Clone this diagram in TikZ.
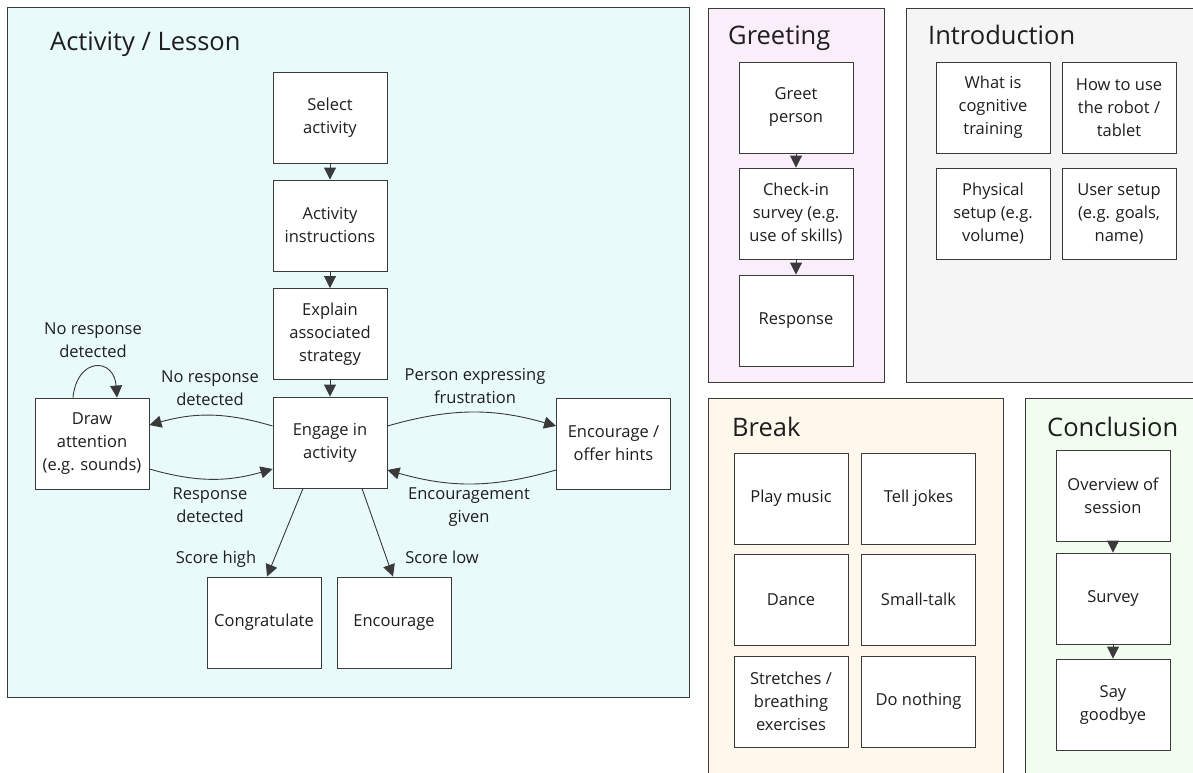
\documentclass[tikz,border=0pt]{standalone}
\usepackage{fontspec}
\setmainfont{Open Sans}
\usetikzlibrary{arrows.meta}
\definecolor{cyanbg}{HTML}{E9FAFB}
\definecolor{pinkbg}{HTML}{FBEEFB}
\definecolor{graybg}{HTML}{F5F5F5}
\definecolor{orangebg}{HTML}{FEF7EC}
\definecolor{greenbg}{HTML}{F1FDEF}
\definecolor{linegray}{HTML}{3A3A3A}
\definecolor{txt}{HTML}{1E1E1E}
\begin{document}
\begin{tikzpicture}[x=1pt,y=-1pt,
  panel/.style={draw=linegray, line width=0.9pt},
  box/.style={draw=linegray, fill=white, line width=0.9pt, minimum width=114pt, minimum height=91pt, inner sep=1pt, align=center, text=txt, font=\fontsize{16.5}{23}\selectfont},
  lbl/.style={align=center, anchor=base, text=txt, inner sep=0pt, font=\fontsize{16.5}{22.5}\selectfont},
  ttl/.style={anchor=base west, text=txt, inner sep=0pt, font=\fontsize{25.5}{30}\selectfont},
  arr/.style={-{Triangle[length=12pt,width=12pt]}, line width=0.9pt, draw=linegray}]
\clip (0,0) rectangle (1193,773);
\fill[white] (0,0) rectangle (1193,773);
% panels
\draw[panel, fill=cyanbg] (7,7) rectangle (689,697);
\draw[panel, fill=pinkbg] (708,8) rectangle (884,382);
\draw[panel, fill=graybg] (906,8) rectangle (1210,382);
\draw[panel, fill=orangebg] (708,398) rectangle (1003,790);
\draw[panel, fill=greenbg] (1025,398) rectangle (1210,790);
% titles
\node[ttl] (tAct) at (50,51) {Activity / Lesson};
\node[ttl] (tGre) at (728,45) {Greeting};
\node[ttl] (tInt) at (928,45) {Introduction};
\node[ttl] (tBrk) at (732,436) {Break};
\node[ttl] (tCon) at (1047,436) {Conclusion};
% activity nodes
\node[box] (sel) at (330,117.5) {Select\\activity};
\node[box] (ins) at (330,225.5) {Activity\\instructions};
\node[box] (exp) at (330,334) {Explain\\associated\\strategy};
\node[box] (eng) at (330,442.5) {Engage in\\activity};
\node[box] (drw) at (92,443.5) {Draw\\attention\\(e.g. sounds)};
\node[box] (enc) at (613.5,443.5) {Encourage /\\offer hints};
\node[box] (cong) at (264,622.5) {Congratulate};
\node[box] (encg) at (394,622.5) {Encourage};
% activity arrows
\draw[arr] (sel) -- (ins);
\draw[arr] (ins) -- (exp);
\draw[arr] (exp) -- (eng);
\draw[arr] ([yshift=16.5pt]eng.west) to[bend right=16] ([yshift=18.5pt]drw.east);
\draw[arr] ([yshift=-25.5pt]drw.east) to[bend right=16] ([yshift=-26.5pt]eng.west);
\draw[arr] ([yshift=16.5pt]eng.east) to[bend left=16] ([yshift=17.5pt]enc.west);
\draw[arr] ([yshift=-26.5pt]enc.west) to[bend left=16] ([yshift=-27.5pt]eng.east);
\draw[arr] ([xshift=-19pt]drw.north) .. controls (77,357) and (114,357) .. ([xshift=25pt]drw.north);
\draw[arr] ([xshift=-27pt]eng.south) -- ([xshift=3pt]cong.north);
\draw[arr] ([xshift=32pt]eng.south) -- ([xshift=-1pt]encg.north);
% labels (base = last line)
\node[lbl] (l1) at (210,405) {No response\\detected};
\node[lbl] (l2) at (210,522) {Response\\detected};
\node[lbl] (l3) at (475,403) {Person expressing\\frustration};
\node[lbl] (l4) at (469,522) {Encouragement\\given};
\node[lbl] (l5) at (93,357) {No response\\detected};
\node[lbl] (l6) at (216,563) {Score high};
\node[lbl] (l7) at (442,563) {Score low};
% greeting
\node[box] (g1) at (796,107.5) {Greet\\person};
\node[box] (g2) at (796,213.5) {Check-in\\survey (e.g.\\use of skills)};
\node[box] (g3) at (796,320.5) {Response};
\draw[arr] (g1) -- (g2);
\draw[arr] (g2) -- (g3);
% introduction
\node[box] (i1) at (993,107.5) {What is\\cognitive\\training};
\node[box] (i2) at (1119,107.5) {How to use\\the robot /\\tablet};
\node[box] (i3) at (993,213.5) {Physical\\setup (e.g.\\volume)};
\node[box] (i4) at (1119,213.5) {User setup\\(e.g. goals,\\name)};
% break
\node[box] (b1) at (791,498.5) {Play music};
\node[box] (b2) at (918.5,498.5) {Tell jokes};
\node[box] (b3) at (791,599.5) {Dance};
\node[box] (b4) at (918.5,599.5) {Small-talk};
\node[box] (b5) at (791,701.5) {Stretches /\\breathing\\exercises};
\node[box] (b6) at (918.5,701.5) {Do nothing};
% conclusion
\node[box] (c1) at (1113,495.5) {Overview of\\session};
\node[box] (c2) at (1113,598.5) {Survey};
\node[box] (c3) at (1113,704.5) {Say\\goodbye};
\draw[arr] (c1) -- (c2);
\draw[arr] (c2) -- (c3);
\end{tikzpicture}
\end{document}
